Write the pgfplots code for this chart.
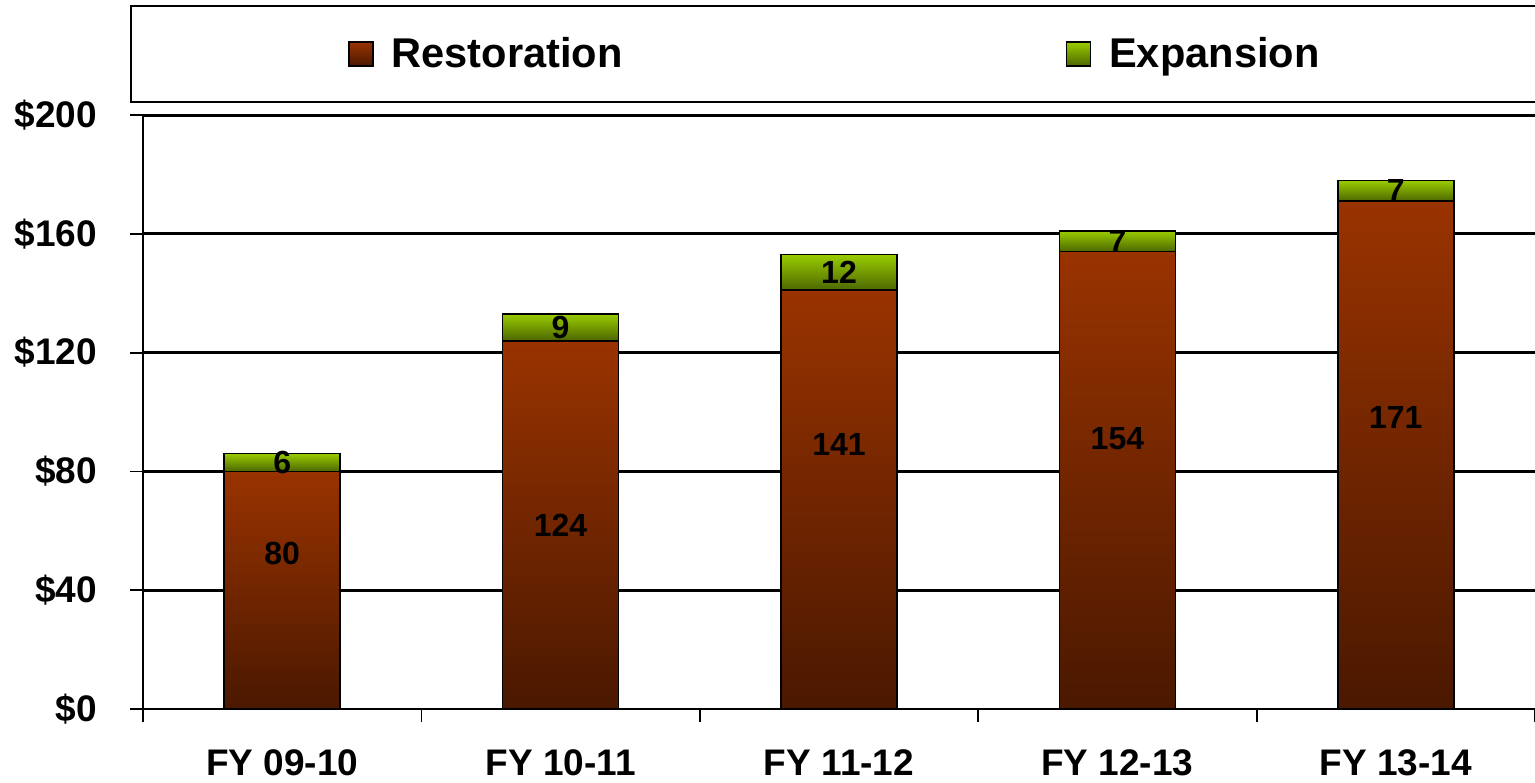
\documentclass[border=0pt]{standalone}
\usepackage{pgfplots}
\pgfplotsset{compat=1.18}
\usepackage{fontspec}
\setmainfont{Liberation Sans}

\definecolor{rTop}{HTML}{993300}
\definecolor{rMid}{HTML}{862C00}
\definecolor{rBot}{HTML}{4A1800}
\definecolor{gTop}{HTML}{99CC00}
\definecolor{gBot}{HTML}{4C6600}

\pgfplotsset{
  base/.style={
    width=696pt, height=297pt, scale only axis,
    xmin=-0.5, xmax=4.5, ymin=0, ymax=200,
  },
  % one axis per category, so every bar gets its own gradient
  bars/.style={base, axis lines=none, ticks=none, ybar stacked, bar width=58pt},
  rstyle/.style={draw=black, line width=0.8pt, top color=rTop, middle color=rMid, bottom color=rBot},
  estyle/.style={draw=black, line width=0.8pt, top color=gTop, bottom color=gBot},
  lbl/.style={only marks, mark=none, nodes near coords, point meta=explicit symbolic,
    every node near coord/.append style={font=\bfseries\fontsize{16}{19}\selectfont, anchor=center}},
}

\begin{document}
\begin{tikzpicture}
\useasboundingbox (-71.5pt,-36.5pt) rectangle (696pt,354.5pt);
\begin{axis}[
    base,
    axis lines*=left,
    axis line style={line width=0.9pt},
    tick align=outside,
    major tick length=6.5pt,
    tick style={black, line width=0.9pt},
    xtick={-0.5,0.5,1.5,2.5,3.5,4.5},
    xticklabels={,,,,,},
    extra x ticks={0,1,2,3,4},
    extra x tick labels={FY 09-10,FY 10-11,FY 11-12,FY 12-13,FY 13-14},
    extra x tick style={major tick length=0pt},
    ytick={40,80,...,200},
    yticklabel={\$\pgfmathprintnumber{\tick}},
    extra y ticks={0},
    extra y tick labels={\$0},
    extra y tick style={grid=none},
    ymajorgrids,
    major grid style={black, line width=1.5pt},
    /pgf/number format/assume math mode=true,
    tick label style={font=\bfseries\fontsize{18.5}{22}\selectfont},
    yticklabel style={anchor=east, xshift=-13pt},
    xticklabel style={anchor=base, yshift=-33pt},
    legend columns=2,
    legend style={
      at={(-0.00934,1.1852)}, anchor=north west,
      draw=black, line width=0.9pt,
      inner xsep=108.5pt, inner ysep=13.75pt,
      font=\bfseries\fontsize{20.8}{24}\selectfont,
      /tikz/every odd column/.append style={column sep=7pt},
      /tikz/every even column/.append style={column sep=219.5pt},
    },
    legend image code/.code={\draw[#1, line width=0.8pt] (0pt,-6pt) rectangle (12pt,6pt);},
]
\addlegendimage{rstyle}
\addlegendentry{Restoration}
\addlegendimage{estyle}
\addlegendentry{Expansion}
\end{axis}

\begin{axis}[bars]
\addplot[rstyle] coordinates {(0,80)};
\addplot[estyle] coordinates {(0,6)};
\end{axis}
\begin{axis}[bars]
\addplot[rstyle] coordinates {(1,124)};
\addplot[estyle] coordinates {(1,9)};
\end{axis}
\begin{axis}[bars]
\addplot[rstyle] coordinates {(2,141)};
\addplot[estyle] coordinates {(2,12)};
\end{axis}
\begin{axis}[bars]
\addplot[rstyle] coordinates {(3,154)};
\addplot[estyle] coordinates {(3,7)};
\end{axis}
\begin{axis}[bars]
\addplot[rstyle] coordinates {(4,171)};
\addplot[estyle] coordinates {(4,7)};
\end{axis}

% value labels
\begin{axis}[base, axis lines=none, ticks=none]
\addplot[lbl] coordinates {(0,52.5)[80] (1,62)[124] (2,89)[141] (3,91)[154] (4,98)[171]};
\addplot[lbl] coordinates {(0,83)[6] (1,128.5)[9] (2,147)[12] (3,157.5)[7] (4,174.5)[7]};
\end{axis}
\end{tikzpicture}
\end{document}
